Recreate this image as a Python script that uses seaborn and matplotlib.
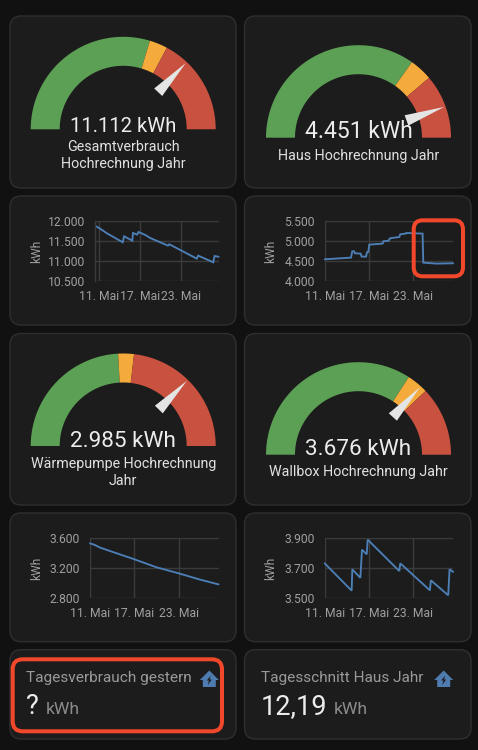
import numpy as np
import pandas as pd
import matplotlib
matplotlib.use("Agg")
import matplotlib.pyplot as plt
from matplotlib.patches import FancyBboxPatch, Polygon
import seaborn as sns

# ---------- data ----------
gauge_titles = [["Gesamtverbrauch", "Hochrechnung Jahr"], ["Haus Hochrechnung Jahr"],
                ["Wärmepumpe Hochrechnung", "Jahr"], ["Wallbox Hochrechnung Jahr"]]
gauge_labels = ["11.112 kWh", "4.451 kWh", "2.985 kWh", "3.676 kWh"]
gauge_values = [11112, 4451, 2985, 3676]
gauge_max = [15000, 5000, 4000, 5000]
gauge_yellow_from = [8900, 3480, 1930, 3415]
gauge_red_from = [9850, 3880, 2150, 3790]

days1 = [10.6, 11.2, 12.2, 14.5, 14.7, 15.9, 16.0, 16.6, 16.8, 17.8, 18.5, 21.1, 21.3, 25.3, 25.5, 27.7, 27.9, 28.5]
vals1 = [11875, 11817, 11700, 11475, 11625, 11517, 11708, 11667, 11733, 11658, 11583, 11392, 11425, 11067, 11142, 10975, 11133, 11112]

days2 = [11, 14.56, 14.74, 15.0, 15.1, 15.87, 16.0, 16.6, 16.73, 16.9, 17.04, 18.85, 18.94, 19.66, 19.84, 21.1, 21.24, 21.96, 22.05, 24.26, 24.35, 26.16, 28.4]
vals2 = [4550, 4592, 4750, 4750, 4700, 4692, 4617, 4617, 4725, 4733, 4917, 4942, 5000, 5017, 5075, 5108, 5175, 5192, 5208, 5192, 4467, 4442, 4451]

days3 = [11, 11.68, 12.35, 17, 20.0, 23, 25.9, 28.4]
vals3 = [3533, 3510, 3476, 3320, 3213, 3133, 3049, 2985]

days4 = [11, 14.65, 14.74, 15.83, 16.05, 16.69, 16.82, 21.1, 21.24, 25.25, 25.38, 27.73, 27.91, 28.4]
vals4 = [3733, 3551, 3693, 3636, 3824, 3793, 3891, 3682, 3733, 3553, 3620, 3520, 3693, 3676]

chart_days = [days1, days2, days3, days4]
chart_vals = [vals1, vals2, vals3, vals4]
chart_yticks = [[10500, 11000, 11500, 12000], [4000, 4500, 5000, 5500], [2800, 3200, 3600], [3500, 3700, 3900]]
chart_yticklabels = [["10.500", "11.000", "11.500", "12.000"], ["4.000", "4.500", "5.000", "5.500"],
                     ["2.800", "3.200", "3.600"], ["3.500", "3.700", "3.900"]]
xtick_days = [11, 17, 23]
xtick_labels = ["11. Mai", "17. Mai", "23. Mai"]

stat_titles = ["Tagesverbrauch gestern", "Tagesschnitt Haus Jahr"]
stat_values = ["?", "12,19"]
stat_unit = "kWh"

# ---------- style ----------
PAGE = "#111111"; CARD = "#1c1c1c"; EDGE = "#2f2f2f"
GREEN = "#5ca055"; ORANGE = "#f4ab3c"; RED = "#c95140"
GRID = "#3b3b3b"; TICK = "#a0a0a0"; LINE = "#4c7fb6"; MARK = "#f1472a"; ICON = "#4f7cb0"

sns.set_theme(style="dark", rc={"axes.facecolor": "none", "figure.facecolor": PAGE})
plt.rcParams["font.family"] = ["Roboto", "DejaVu Sans"]

W, H = 478, 750
fig = plt.figure(figsize=(W / 100, H / 100), dpi=100, facecolor=PAGE)

bg = fig.add_axes([0, 0, 1, 1], zorder=0)
bg.set_xlim(0, W); bg.set_ylim(H, 0); bg.axis("off")
top = fig.add_axes([0, 0, 1, 1], zorder=5, facecolor="none")
top.set_xlim(0, W); top.set_ylim(H, 0); top.axis("off")


def card(x0, y0, x1, y1):
    bg.add_patch(FancyBboxPatch((x0 + 11, y0 + 11), x1 - x0 - 22, y1 - y0 - 22,
                                boxstyle="round,pad=11,rounding_size=11",
                                fc=CARD, ec=EDGE, lw=1))


LX = (10, 236); RX = (244.5, 471)
rows = [(16, 188), (196, 325), (333.5, 505), (513, 641.7), (649.7, 739)]
for r in rows:
    card(LX[0], r[0], LX[1], r[1])
    card(RX[0], r[0], RX[1], r[1])


# ---------- gauges ----------
def gauge(cx, cy, i, value_base, title_bases, value_size):
    m = gauge_max[i]
    ro, ri = 92.5, 63.5

    def pt(v, r):
        th = np.pi * (1 - v / m)
        return cx + r * np.cos(th), cy - r * np.sin(th)

    edges = [0, gauge_yellow_from[i], gauge_red_from[i], m]
    for a, b, col in zip(edges[:-1], edges[1:], [GREEN, ORANGE, RED]):
        v = np.linspace(a, b, 80)
        xo, yo = pt(v, ro)
        xi, yi = pt(v[::-1], ri)
        bg.fill(np.r_[xo, xi], np.r_[yo, yi], color=col, lw=0)
    val = gauge_values[i]
    th = np.pi * (1 - val / m)
    tx, ty = pt(val, 91)
    bx, by = pt(val, 51)
    nx, ny = np.sin(th) * 5.5, np.cos(th) * 5.5
    top.add_patch(Polygon([(tx, ty), (bx + nx, by + ny), (bx - nx, by - ny)], closed=True, fc="#e4e4e4", ec="none"))
    bg.text(cx, value_base, gauge_labels[i], color="#ececec", fontsize=value_size, ha="center", va="baseline")
    for t, b in zip(gauge_titles[i], title_bases):
        bg.text(cx, b, t, color="#e2e2e2", fontsize=10.3, ha="center", va="baseline")


gauge(123.2, 129.3, 0, 131.7, [151, 168.3], 14.6)
gauge(358.5, 137.7, 1, 138.3, [160], 16.5)
gauge(123.2, 446, 2, 446.7, [467.7, 485], 16.2)
gauge(358.5, 454.7, 3, 455.3, [476], 16.2)


# ---------- line charts ----------
def chart(i, left_px, right_px, tick11_px, tick23_px, top_px, bottom_px, ylab_x, yspine):
    ax = fig.add_axes([left_px / W, 1 - bottom_px / H, (right_px - left_px) / W, (bottom_px - top_px) / H],
                      zorder=2, facecolor="none")
    df = pd.DataFrame({"day": chart_days[i], "kWh": chart_vals[i]})
    sns.lineplot(data=df, x="day", y="kWh", ax=ax, color=LINE, lw=1.35, clip_on=False,
                 estimator=None, sort=False, solid_joinstyle="miter")
    per_day = (tick23_px - tick11_px) / (xtick_days[2] - xtick_days[0])
    ax.set_xlim(xtick_days[0] + (left_px - tick11_px) / per_day, xtick_days[0] + (right_px - tick11_px) / per_day)
    ax.set_ylim(chart_yticks[i][0], chart_yticks[i][-1])
    ax.set_xticks(xtick_days, xtick_labels)
    ax.set_yticks(chart_yticks[i], chart_yticklabels[i])
    ax.grid(True, color=GRID, lw=1)
    ax.set_axisbelow(True)
    ax.tick_params(axis="x", length=2.6, width=1, color=GRID, labelcolor=TICK, labelsize=8.7, pad=3.6)
    ax.tick_params(axis="y", length=5.4, width=1, color=GRID, labelcolor=TICK, labelsize=8.7, pad=1.8)
    for s in ax.spines.values():
        s.set_visible(False)
    if yspine:
        ax.spines["left"].set_visible(True)
        ax.spines["left"].set_color(GRID)
        ax.spines["left"].set_linewidth(1)
    ax.set_xlabel(""); ax.set_ylabel("")
    bg.text(ylab_x, (top_px + bottom_px) / 2, "kWh", color=TICK, fontsize=8.6, rotation=90, ha="center", va="center")


chart(0, 95, 218.7, 98.7, 181, 221.3, 281.3, 37, True)
chart(1, 324.7, 453.3, 324.7, 413.3, 221.3, 281.3, 271, False)
chart(2, 90, 218.7, 90, 178.7, 538.3, 598.3, 37, False)
chart(3, 324.7, 453.3, 324.7, 413.3, 538.3, 598.3, 271, False)


# ---------- stat cards ----------
def house(cx, cy):
    s = 1.0
    top.add_patch(Polygon([(cx, cy - 9 * s), (cx + 9.5 * s, cy + 0.5 * s), (cx + 6.5 * s, cy + 0.5 * s),
                           (cx + 6.5 * s, cy + 7.5 * s), (cx - 6.5 * s, cy + 7.5 * s),
                           (cx - 6.5 * s, cy + 0.5 * s), (cx - 9.5 * s, cy + 0.5 * s)],
                          closed=True, fc=ICON, ec="none"))
    top.add_patch(Polygon([(cx + 1.5, cy - 4), (cx - 2.5, cy + 1), (cx - 0.3, cy + 1), (cx - 1.5, cy + 5.5),
                           (cx + 2.5, cy), (cx + 0.3, cy)], closed=True, fc=CARD, ec="none"))


def stat(x, i, unit_x, icon_x):
    bg.text(x, 682, stat_titles[i], color="#9a9a9a", fontsize=11.1, ha="left", va="baseline")
    bg.text(x, 714.5, stat_values[i], color="#ececec", fontsize=19.5, ha="left", va="baseline")
    bg.text(unit_x, 714.5, stat_unit, color="#8c8c8c", fontsize=12.6, ha="left", va="baseline")
    house(icon_x, 679.5)


stat(26.3, 0, 46, 209.3)
stat(261, 1, 333.3, 443.7)


# ---------- red highlight boxes ----------
def mark(x0, y0, x1, y1, rad):
    top.add_patch(FancyBboxPatch((x0 + rad, y0 + rad), x1 - x0 - 2 * rad, y1 - y0 - 2 * rad,
                                 boxstyle=f"round,pad={rad},rounding_size={rad}",
                                 fc="none", ec=MARK, lw=2.9))


mark(413.7, 220.3, 463, 276.3, 9)
mark(12.7, 659.3, 222, 731.3, 10)

fig.savefig("out.png", dpi=100, facecolor=PAGE)
